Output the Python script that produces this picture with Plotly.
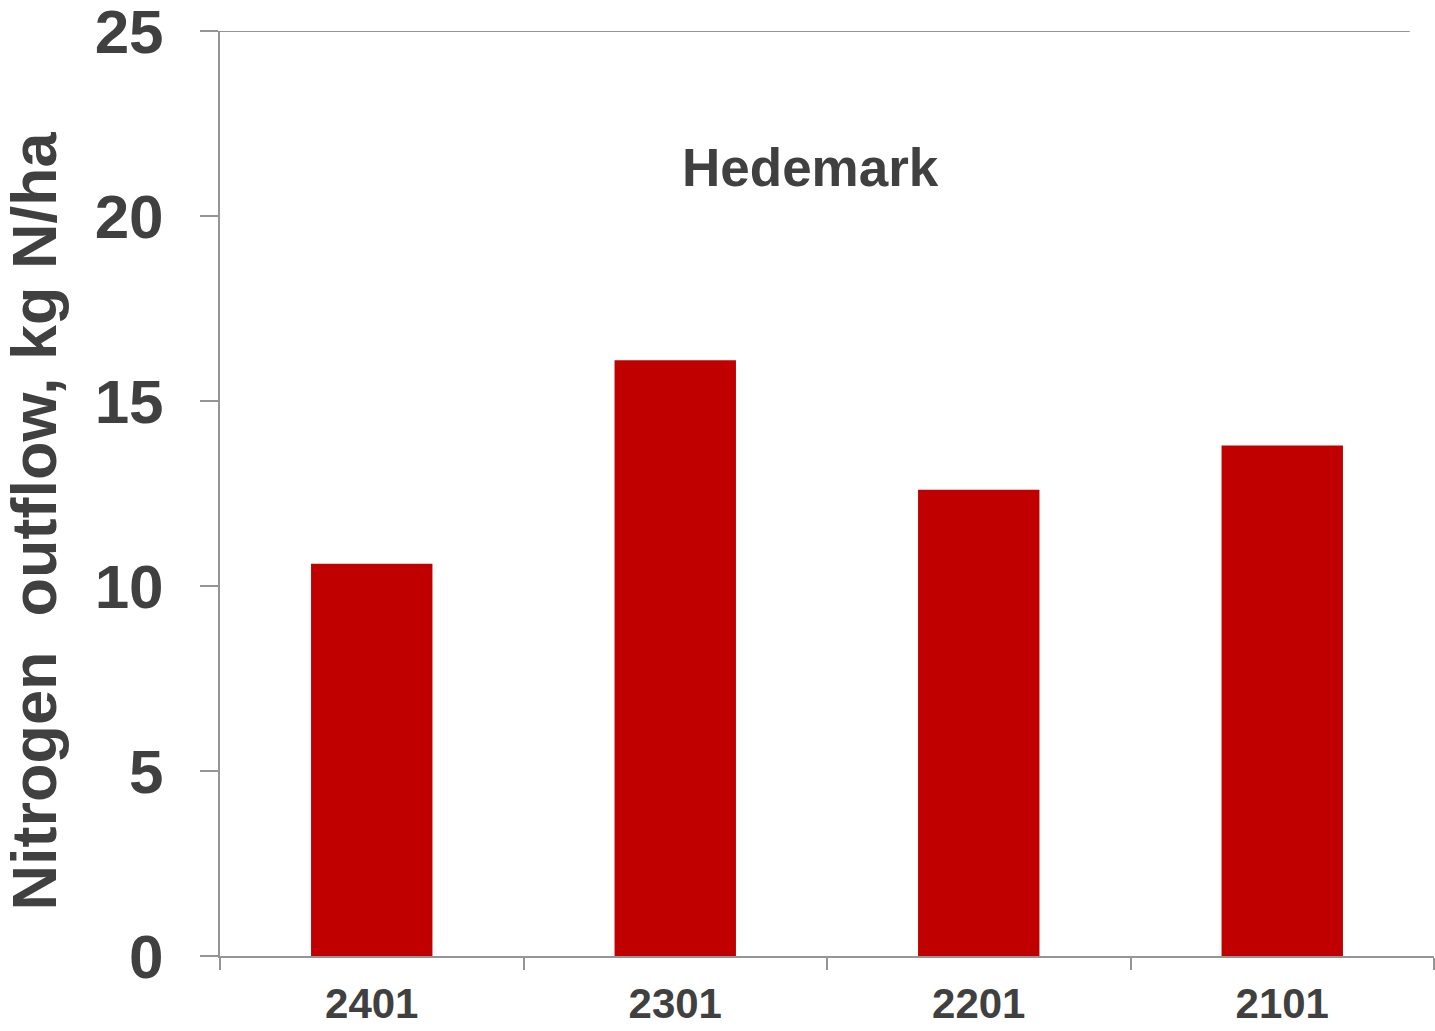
import plotly.graph_objects as go

categories = ["2401", "2301", "2201", "2101"]
values = [10.6, 16.1, 12.6, 13.8]
y_ticks = [0, 5, 10, 15, 20, 25]

axis_color = "#959595"
text_color = "#404040"
font_family = "Liberation Sans, Arial, sans-serif"

fig = go.Figure()
fig.add_trace(go.Bar(
    x=categories, y=values, width=0.4,
    marker=dict(color="#C00000", line=dict(width=0)),
))

fig.update_layout(
    width=1435, height=1031,
    margin=dict(l=220, r=1, t=31, b=75, autoexpand=False),
    plot_bgcolor="white", paper_bgcolor="white",
    showlegend=False,
    bargap=0.6,
)

fig.update_xaxes(
    type="category", automargin=False,
    showline=True, linecolor=axis_color, linewidth=2,
    ticks="outside", ticklen=12, tickwidth=2, tickcolor=axis_color,
    tickson="boundaries",
    tickfont=dict(family=font_family, size=42, color=text_color, weight="bold"),
    ticklabelstandoff=10,
    showgrid=False,
)
fig.update_yaxes(
    range=[0, 25], tickvals=y_ticks, automargin=False,
    showline=True, linecolor=axis_color, linewidth=2,
    ticks="outside", ticklen=18, tickwidth=2, tickcolor=axis_color,
    tickfont=dict(family=font_family, size=62, color=text_color, weight="bold"),
    ticklabelstandoff=24,
    ticklabeloverflow="allow",
    showgrid=False, zeroline=False,
)

fig.add_shape(type="line", xref="paper", yref="y", x0=0, x1=0.980, y0=25, y1=25,
              line=dict(color=axis_color, width=2))

fig.add_annotation(
    text="Nitrogen  outflow, kg N/ha", textangle=-90,
    xref="paper", yref="paper", x=-0.153, y=0.470,
    xanchor="center", yanchor="middle", showarrow=False,
    font=dict(family=font_family, size=63, color=text_color, weight="bold"),
)
fig.add_annotation(
    text="Hedemark",
    xref="paper", yref="paper", x=0.486, y=0.852,
    xanchor="center", yanchor="middle", showarrow=False,
    font=dict(family=font_family, size=53, color=text_color, weight="bold"),
)

fig.write_html("out.html")
